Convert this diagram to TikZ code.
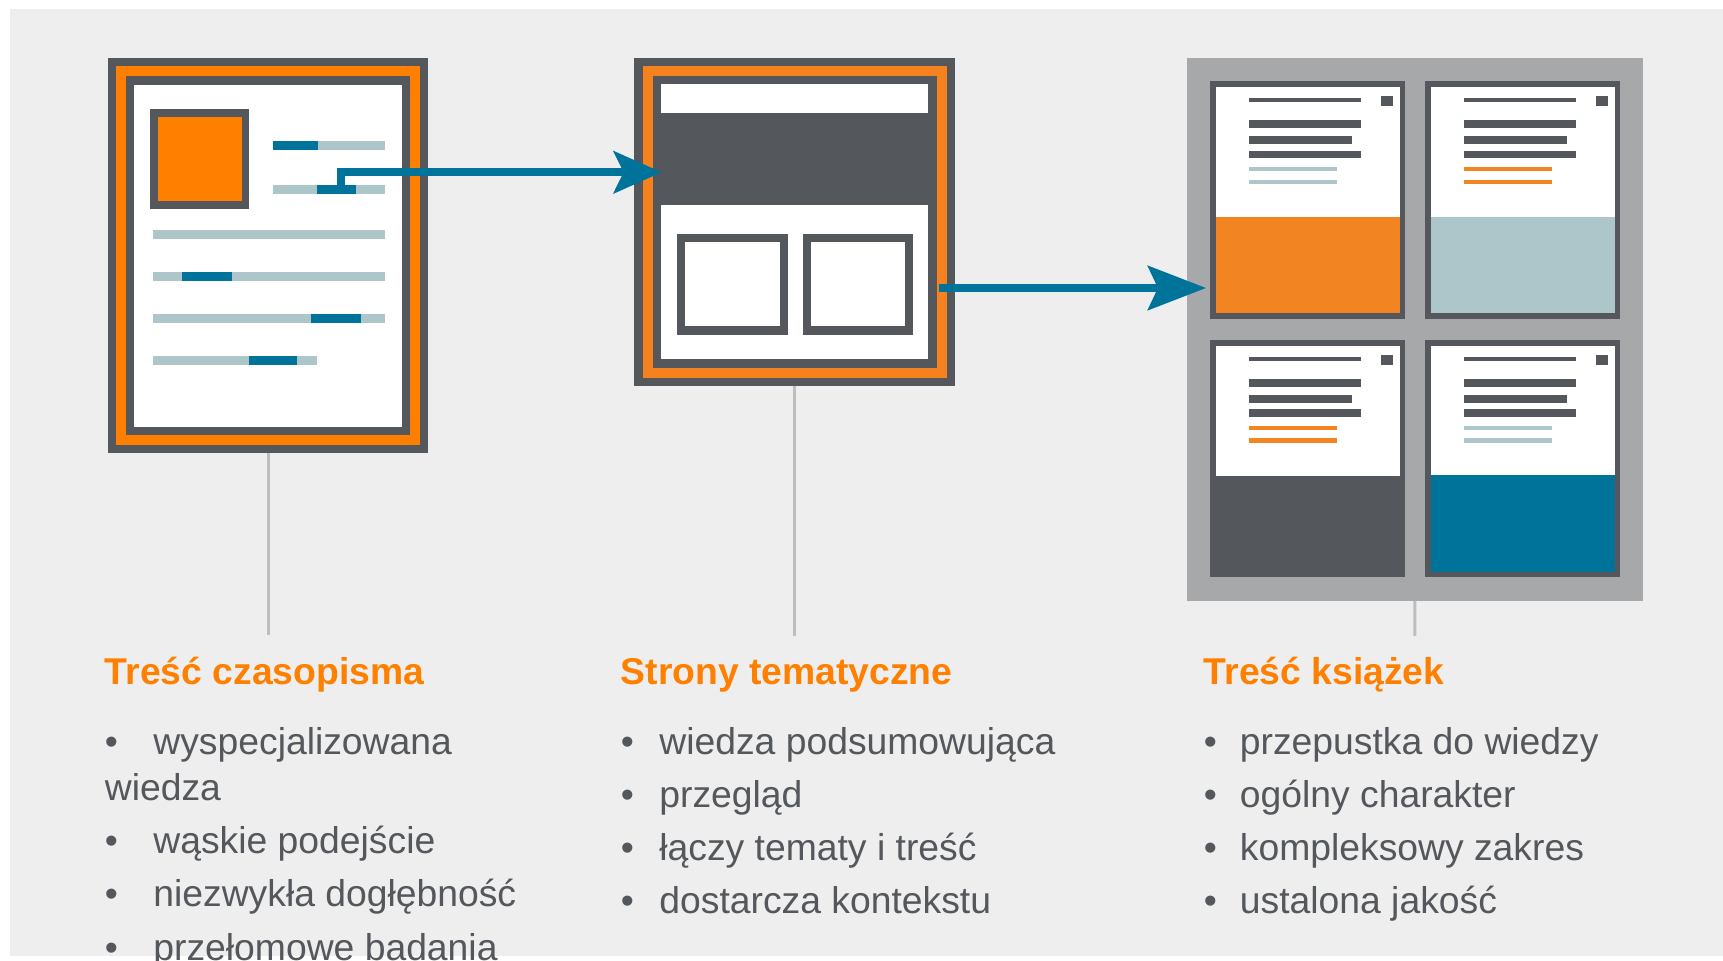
\documentclass[tikz,border=0pt]{standalone}
\usepackage{fontspec}
\setmainfont{Liberation Sans}
\usetikzlibrary{arrows.meta,fit}
\definecolor{bg}{HTML}{EDEEED}
\definecolor{dk}{HTML}{54575B}
\definecolor{orA}{HTML}{FF8000}
\definecolor{orB}{HTML}{F5821F}
\definecolor{orC}{HTML}{F38422}
\definecolor{bl}{HTML}{00739A}
\definecolor{lb}{HTML}{ADC6C9}
\definecolor{gr}{HTML}{A7A8AA}
\definecolor{conn}{HTML}{BEBEBE}
\definecolor{ttl}{HTML}{FF8000}
\definecolor{txt}{HTML}{54575B}
\tikzset{
  body/.style={anchor=base west, inner sep=0, text=txt, font=\fontsize{18.65pt}{22pt}\selectfont},
  head/.style={anchor=base west, inner sep=0, text=ttl, font=\fontsize{18.65pt}{22pt}\selectfont\bfseries},
  frame/.style={inner sep=0, draw=none},
  connline/.style={draw=conn, line width=1.5pt},
  flowA/.style={draw=bl, line width=4pt, -{Stealth[length=24pt, width=21pt, inset=5pt]}},
  flowB/.style={draw=bl, line width=4pt, -{Stealth[length=29pt, width=22pt, inset=5pt]}},
}
\newcommand\drawcard[4]{%
  \fill[dk] (#1,#2) rectangle ({#1+195},{#2+237.4});
  \fill[white] ({#1+5.7},{#2+5.7}) rectangle ({#1+189.7},{#2+232});
  \fill[#4] ({#1+5.7},{#2+135.7}) rectangle ({#1+189.7},{#2+232});
  \fill[dk] ({#1+39.3},{#2+16.7}) rectangle ({#1+151},{#2+20.7});
  \fill[dk] ({#1+170.7},{#2+14.7}) rectangle ({#1+182.7},{#2+24.7});
  \fill[dk] ({#1+39.3},{#2+38.7}) rectangle ({#1+151},{#2+46.7});
  \fill[dk] ({#1+39.3},{#2+55}) rectangle ({#1+142.3},{#2+62.7});
  \fill[dk] ({#1+39.3},{#2+69.4}) rectangle ({#1+151},{#2+77});
  \fill[#3] ({#1+39.3},{#2+85.7}) rectangle ({#1+127.3},{#2+89.7});
  \fill[#3] ({#1+39.3},{#2+98.4}) rectangle ({#1+127.3},{#2+102.7});
}
\begin{document}
\begin{tikzpicture}[x=0.5pt,y=-0.5pt]
\useasboundingbox (0,0) rectangle (1723,961);
\clip (0,0) rectangle (1723,961);
\fill[bg] (10,9) rectangle (1723,956);

% ---------- document 1 ----------
\node[frame, fill=dk, fit={(108,58)(428,453)}] (doc1) {};
\fill[orA] (116,66) rectangle (420,445);
\fill[dk] (126,76) rectangle (410,435);
\fill[white] (134,85) rectangle (402,427);
\fill[dk] (150,109) rectangle (249,209);
\fill[orA] (158,117) rectangle (242,201);
% text lines
\fill[lb] (273,141.5) rectangle (385,150.5);
\fill[bl] (273,141.5) rectangle (318,150.5);
\fill[lb] (273,185.5) rectangle (385,194.5);
\fill[bl] (317,185.5) rectangle (356,194.5);
\fill[lb] (153,230) rectangle (385,239);
\fill[lb] (153,272.5) rectangle (385,281.5);
\fill[bl] (182,272.5) rectangle (232,281.5);
\fill[lb] (153,314) rectangle (385,323);
\fill[bl] (311,314) rectangle (361,323);
\fill[lb] (153,356.5) rectangle (317,365.5);
\fill[bl] (249,356.5) rectangle (297,365.5);

% ---------- document 2 ----------
\node[frame, fill=dk, fit={(634.4,58)(955.1,386)}] (doc2) {};
\fill[orB] (643.2,66) rectangle (946.7,378);
\fill[dk] (653.2,76) rectangle (936.8,368);
\fill[white] (661.2,84) rectangle (928.3,113);
\fill[white] (661.2,205) rectangle (928.3,359);
\fill[dk] (676.5,234) rectangle (787.5,335);
\fill[white] (685,242) rectangle (779.5,326);
\fill[dk] (802.8,234) rectangle (913.4,335);
\fill[white] (810.5,242) rectangle (905.4,326);

% ---------- document 3 ----------
\node[frame, fill=gr, fit={(1187,58)(1642.7,600.7)}] (doc3) {};
\drawcard{1210}{81.3}{lb}{orC}
\drawcard{1425}{81.3}{orC}{lb}
\drawcard{1210}{340}{orC}{dk}
\drawcard{1425}{340}{lb}{bl}
\fill[bl] (1430.7,475) rectangle (1614.7,571.7);

% ---------- connectors ----------
\coordinate (a1s) at (341,191);
\coordinate (a1e) at (661.7,172.3);
\coordinate (a2s) at (939,288);
\coordinate (a2e) at (1206,288);
\draw[flowA] (a1s) |- (a1e);
\draw[flowB] (a2s) -- (a2e);

\coordinate (c1) at (268,635);
\coordinate (c2) at (794.75,636);
\coordinate (c3) at (1414.9,636);
\draw[connline] (doc1.south) -- (c1);
\draw[connline] (doc2.south) -- (c2);
\draw[connline] (doc3.south) -- (c3);

% ---------- texts ----------
\node[head] (t1) at (104.5,684.5) {Treść czasopisma};
\node[head] (t2) at (620.5,684.5) {Strony tematyczne};
\node[head] (t3) at (1203.5,684.5) {Treść książek};

\node[body] (b11) at (104.5,754) {•};
\node[body] (i11) at (153,754) {wyspecjalizowana};
\node[body] (i11b) at (104.5,800) {wiedza};
\node[body] (b12) at (104.5,853) {•};
\node[body] (i12) at (153,853) {wąskie podejście};
\node[body] (b13) at (104.5,906.8) {•};
\node[body] (i13) at (153,906.8) {niezwykła dogłębność};
\node[body] (b14) at (104.5,960) {•};
\node[body] (i14) at (153,960) {przełomowe badania};

\node[body] (b21) at (620.5,754) {•};
\node[body] (i21) at (659,754) {wiedza podsumowująca};
\node[body] (b22) at (620.5,807.8) {•};
\node[body] (i22) at (659,807.8) {przegląd};
\node[body] (b23) at (620.5,860.3) {•};
\node[body] (i23) at (659,860.3) {łączy tematy i treść};
\node[body] (b24) at (620.5,913.5) {•};
\node[body] (i24) at (659,913.5) {dostarcza kontekstu};

\node[body] (b31) at (1203.5,754) {•};
\node[body] (i31) at (1239.5,754) {przepustka do wiedzy};
\node[body] (b32) at (1203.5,807.8) {•};
\node[body] (i32) at (1239.5,807.8) {ogólny charakter};
\node[body] (b33) at (1203.5,860.3) {•};
\node[body] (i33) at (1239.5,860.3) {kompleksowy zakres};
\node[body] (b34) at (1203.5,913.5) {•};
\node[body] (i34) at (1239.5,913.5) {ustalona jakość};
\end{tikzpicture}
\end{document}
